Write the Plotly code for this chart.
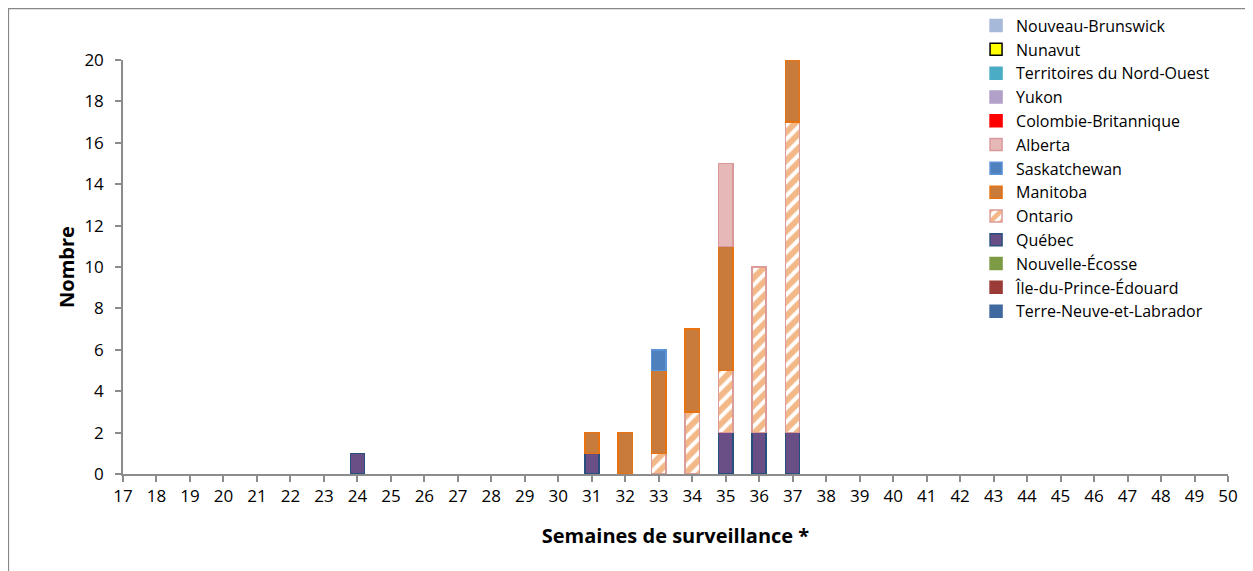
import plotly.graph_objects as go

# Weeks axis
week_ticks = list(range(17, 51))
weeks = [24, 31, 32, 33, 34, 35, 36, 37]

# Counts per province for the weeks above
terre_neuve = [0, 0, 0, 0, 0, 0, 0, 0]
ile_pe = [0, 0, 0, 0, 0, 0, 0, 0]
nouvelle_ecosse = [0, 0, 0, 0, 0, 0, 0, 0]
quebec = [1, 1, 0, 0, 0, 2, 2, 2]
ontario = [0, 0, 0, 1, 3, 3, 8, 15]
manitoba = [0, 1, 2, 4, 4, 6, 0, 3]
saskatchewan = [0, 0, 0, 1, 0, 0, 0, 0]
alberta = [0, 0, 0, 0, 0, 4, 0, 0]
colombie_b = [0, 0, 0, 0, 0, 0, 0, 0]
yukon = [0, 0, 0, 0, 0, 0, 0, 0]
tno = [0, 0, 0, 0, 0, 0, 0, 0]
nunavut = [0, 0, 0, 0, 0, 0, 0, 0]
nouveau_b = [0, 0, 0, 0, 0, 0, 0, 0]

series = [
    ("Terre-Neuve-et-Labrador", terre_neuve, "#40699F", "#40699F", None),
    ("Île-du-Prince-Édouard", ile_pe, "#9A3B38", "#9A3B38", None),
    ("Nouvelle-Écosse", nouvelle_ecosse, "#7D9A45", "#7D9A45", None),
    ("Québec", quebec, "#6A4E86", "#27507F", None),
    ("Ontario", ontario, "#FFFFFF", "#DC9C9A", "/"),
    ("Manitoba", manitoba, "#C97B3B", "#E8720F", None),
    ("Saskatchewan", saskatchewan, "#4F80BE", "#5B93D6", None),
    ("Alberta", alberta, "#E6B8B8", "#D9999A", None),
    ("Colombie-Britannique", colombie_b, "#FF0000", "#FF0000", None),
    ("Yukon", yukon, "#B1A0C7", "#B1A0C7", None),
    ("Territoires du Nord-Ouest", tno, "#4BACC6", "#4BACC6", None),
    ("Nunavut", nunavut, "#FFFF00", "#000000", None),
    ("Nouveau-Brunswick", nouveau_b, "#A7B9D9", "#A7B9D9", None),
]

fig = go.Figure()
for name, vals, fill, line, pat in series:
    y = [v if v else None for v in vals]
    marker = dict(color=fill, line=dict(color=line, width=1.5))
    if pat:
        marker["pattern"] = dict(shape=pat, fgcolor="#E8720F", bgcolor="#FFFFFF",
                                 size=10, solidity=0.6, fillmode="overlay")
    fig.add_trace(go.Bar(x=weeks, y=y, name=name, marker=marker, width=0.42))

font = "'Open Sans', Lato, sans-serif"
axis_col = "#8C8C8C"

fig.update_layout(
    barmode="stack",
    width=1245, height=563,
    margin=dict(l=115, r=25, t=52, b=97, autoexpand=False),
    plot_bgcolor="white", paper_bgcolor="white",
    font=dict(family=font, size=16, color="#000"),
    showlegend=True,
    legend=dict(traceorder="reversed", x=0.772, y=1.124,
                xanchor="left", yanchor="top",
                font=dict(size=16, family=font, color="#000"), bgcolor="rgba(0,0,0,0)",
                tracegroupgap=0, itemwidth=30, maxheight=700),
    xaxis=dict(range=[17, 50], tickvals=week_ticks, ticktext=[str(w) for w in week_ticks],
               showgrid=False, zeroline=False, showline=True, linecolor=axis_col, linewidth=1.5,
               ticks="outside", ticklen=6, tickcolor=axis_col, tickwidth=1.5,
               tickfont=dict(size=17),
               title=dict(text="<b>Semaines de surveillance *</b>", font=dict(size=20), standoff=23)),
    yaxis=dict(range=[0, 20], tickvals=list(range(0, 21, 2)),
               showgrid=False, zeroline=False, showline=True, linecolor=axis_col, linewidth=1.5,
               ticks="outside", ticklen=6, tickcolor=axis_col, tickwidth=1.5,
               tickfont=dict(size=17), ticklabelstandoff=8,
               title=dict(text="<b>Nombre</b>", font=dict(size=20), standoff=4)),
    shapes=[dict(type="rect", xref="paper", yref="paper",
                 x0=-0.1036, x1=1.06, y0=-0.4, y1=1.124,
                 line=dict(color="#888888", width=1.2), fillcolor="rgba(0,0,0,0)", layer="below")],
)

fig.write_html("out.html")
